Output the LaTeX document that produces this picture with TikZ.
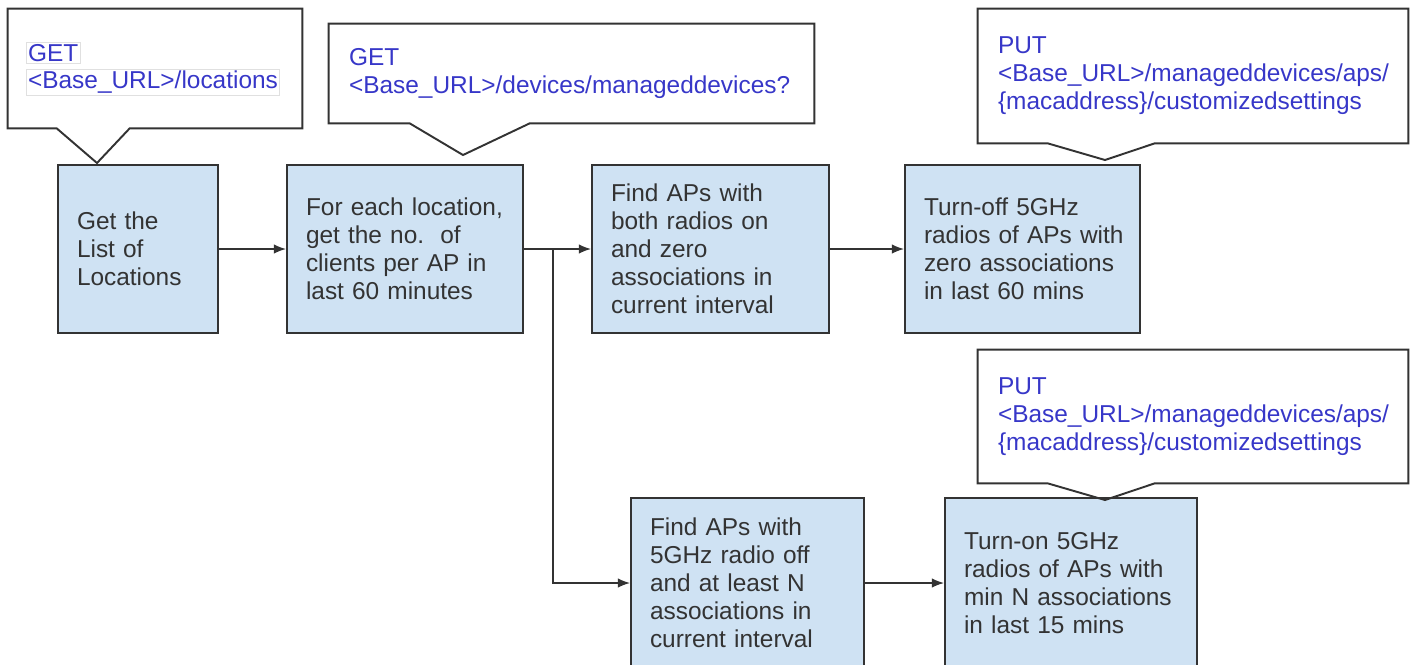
\documentclass[tikz,border=0pt]{standalone}
\usepackage{fontspec}
\setmainfont{Liberation Sans}
\usetikzlibrary{calc}
\usetikzlibrary{arrows.meta}
\definecolor{boxfill}{RGB}{207,226,243}
\definecolor{urlblue}{RGB}{55,55,200}
\definecolor{edge}{RGB}{51,51,51}

\tikzset{
 task/.style={draw=edge, line width=1.1pt, fill=boxfill, text=black!80, align=left,
   inner xsep=0.1cm, text width=#1, minimum height=3.36cm, font=\fontsize{13.9}{16}\selectfont,
   execute at begin node={\leftskip=0.28cm\relax}},
 callout/.style={draw=edge, line width=1.1pt, line join=miter},
 calltext/.style={text=urlblue, align=left, inner xsep=0.4cm, text width=#1,
   font=\fontsize{13.9}{16}\selectfont},
 hl/.style={draw=black!12, line width=0.4pt, text=urlblue, inner sep=1pt, anchor=west,
   font=\fontsize{13.9}{16}\selectfont},
 flow/.style={draw=edge, line width=0.9pt, -{Latex[length=7pt,width=5.5pt]}}
}

\begin{document}
\begin{tikzpicture}[x=0.02cm, y=-0.02cm]
\clip (0,0) rectangle (1416,664);
% process steps
\node[task=3.0cm] (locs) at (138,249) {Get the\\List of\\Locations};
\node[task=4.52cm] (clients) at (405,249) {For each location,\\get the no.\ \ of\\clients per AP in\\last 60 minutes};
\node[task=4.54cm] (zero) at (710.5,249) {Find APs with\\both radios on\\and zero\\associations in\\current interval};
\node[task=4.5cm] (off) at (1022.5,249) {Turn-off 5GHz\\radios of APs with\\zero associations\\in last 60 mins};
\node[task=4.46cm, minimum height=3.4cm] (find2) at (747.5,583) {Find APs with\\5GHz radio off\\and at least N\\associations in\\current interval};
\node[task=4.84cm, minimum height=3.4cm] (on) at (1071,583) {Turn-on 5GHz\\radios of APs with\\min N associations\\in last 15 mins};

% API call-outs
\node[minimum width=5.88cm, minimum height=2.38cm, inner sep=0] (c1) at (155,68.5) {};
\node[hl] (get1) at (26,53) {GET\hspace{10pt}};
\node[hl] (url1) at (26,82) {<Base\_URL>/locations};
\node[calltext=8.9cm, minimum height=1.98cm] (c2) at (571.5,73.5) {GET\\<Base\_URL>/devices/manageddevices?};
\node[calltext=7.8cm, minimum height=2.68cm] (c3) at (1193,76) {PUT\\<Base\_URL>/manageddevices/aps/\\\{macaddress\}/customizedsettings};
\node[calltext=7.8cm, minimum height=2.66cm] (c4) at (1193,416.5) {PUT\\<Base\_URL>/manageddevices/aps/\\\{macaddress\}/customizedsettings};

\coordinate (tip1) at (97,163);
\coordinate (tip2) at (463,155);
\coordinate (tip3) at (1105,160);
\coordinate (tip4) at (1105,500);
\foreach \c/\a/\b/\t in {c1/49/122/tip1, c2/81/201/tip2, c3/70/177/tip3, c4/70/177/tip4}{
 \draw[callout] (\c.south west) -- ++(\a,0) -- (\t) -- ($(\c.south west)+(\b,0)$)
   -- (\c.south east) -- (\c.north east) -- (\c.north west) -- cycle;
}

% flow
\coordinate (split) at (553,249);
\draw[flow] (locs.east) -- (clients.west);
\draw[flow] (clients.east) -- (zero.west);
\draw[flow] (split) |- (find2.west);
\draw[flow] (zero.east) -- (off.west);
\draw[flow] (find2.east) -- (on.west);
\end{tikzpicture}
\end{document}
